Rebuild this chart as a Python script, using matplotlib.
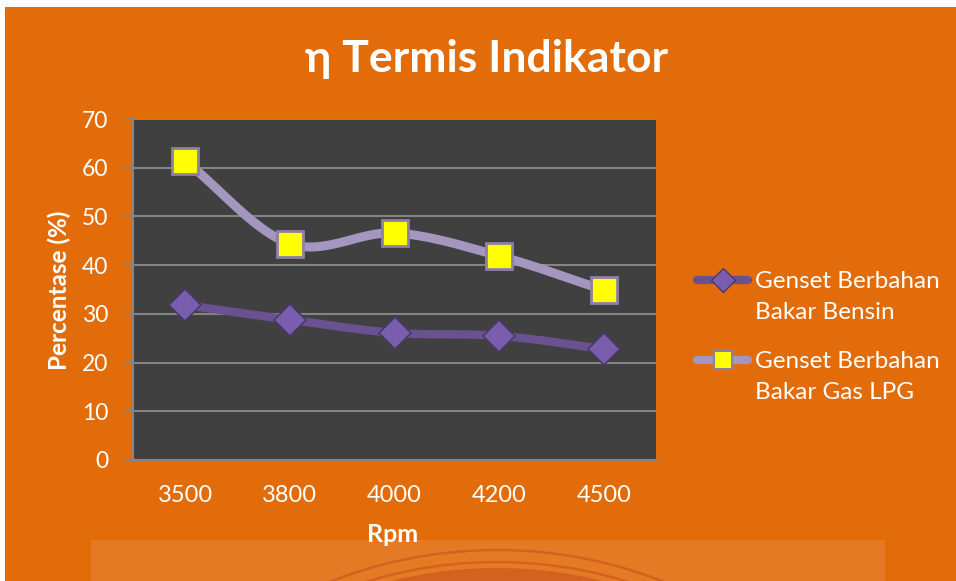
import numpy as np
import matplotlib
matplotlib.use("Agg")
import matplotlib.pyplot as plt
from matplotlib.patches import Rectangle, Circle

plt.rcParams['font.family'] = ['Lato', 'DejaVu Sans']

rpm = ['3500', '3800', '4000', '4200', '4500']
bensin = [31.8, 28.8, 26.1, 25.5, 22.8]
lpg = [61.4, 44.4, 46.6, 41.9, 34.9]
yticks = [0, 10, 20, 30, 40, 50, 60, 70]
names = ['Genset Berbahan\nBakar Bensin', 'Genset Berbahan\nBakar Gas LPG']

orange = '#E36C0A'
c_bensin = '#6A5290'
c_lpg = '#A496BF'


def smooth(xs, ys, n=30):
    # catmull-rom curve through the points, like excel's smoothed line
    xs = np.asarray(xs, float)
    ys = np.asarray(ys, float)
    px = np.concatenate([[2 * xs[0] - xs[1]], xs, [2 * xs[-1] - xs[-2]]])
    py = np.concatenate([[2 * ys[0] - ys[1]], ys, [2 * ys[-1] - ys[-2]]])
    ox, oy = [], []
    t = np.linspace(0, 1, n)
    for i in range(1, len(px) - 2):
        for p, o in ((px, ox), (py, oy)):
            p0, p1, p2, p3 = p[i - 1], p[i], p[i + 1], p[i + 2]
            o.extend(0.5 * (2 * p1 + (-p0 + p2) * t
                            + (2 * p0 - 5 * p1 + 4 * p2 - p3) * t ** 2
                            + (-p0 + 3 * p1 - 3 * p2 + p3) * t ** 3))
    return ox, oy


W, H = 956, 581
fig = plt.figure(figsize=(W / 100, H / 100), dpi=100)
fig.patch.set_facecolor('white')

# background layer in pixel coordinates (y going down)
bg = fig.add_axes([0, 0, 1, 1], zorder=-1)
bg.set_xlim(0, W)
bg.set_ylim(H, 0)
bg.axis('off')
bg.add_patch(Rectangle((5, 7), W, H, facecolor=orange, edgecolor='none'))
panel = Rectangle((91, 540), 885 - 91, 60, facecolor='#E57A25', edgecolor='none')
bg.add_patch(panel)
for r, lw, fill in ((455, 1.8, False), (443, 1.8, False), (437, 0, True)):
    c = Circle((497, 550 + 455), r, facecolor='#D2621E' if fill else 'none',
               edgecolor='#D2621E', lw=lw)
    bg.add_patch(c)
    c.set_clip_path(panel)


def fx(x):
    return x / W

def fy(y):
    return 1 - y / H


ax = fig.add_axes([fx(133), fy(460), fx(656) - fx(133), fy(119) - fy(460)])
ax.set_facecolor('#404040')
x = np.arange(len(rpm))

sx, sy = smooth(x, lpg)
ax.plot(sx, sy, color=c_lpg, lw=6.5, solid_capstyle='round', zorder=3)
sx, sy = smooth(x, bensin)
ax.plot(sx, sy, color=c_bensin, lw=6, solid_capstyle='round', zorder=3)

ax.plot(x, bensin, ls='none', marker='D', ms=16, mfc='#7A5EAE', mec='#4A3968', mew=1.2, zorder=4)
ax.plot(x, lpg, ls='none', marker='s', ms=19, mfc='#FFFF00', mec='#8C80A8', mew=2, zorder=4)

ax.set_xlim(-0.5, len(rpm) - 0.5)
ax.set_ylim(0, 70)
ax.set_yticks(yticks)
ax.set_xticks(x)
ax.set_xticklabels(rpm)
ax.yaxis.grid(True, color='#858585', lw=1.5)
ax.set_axisbelow(True)
for s in ['top', 'right']:
    ax.spines[s].set_visible(False)
for s in ['left', 'bottom']:
    ax.spines[s].set_color('#858585')
    ax.spines[s].set_linewidth(1.5)
ax.tick_params(axis='y', colors='#858585', labelcolor='white', labelsize=16.5, length=6, width=1.2, pad=12)
ax.tick_params(axis='x', length=0, labelcolor='white', labelsize=17, pad=18)

fig.text(fx(393), fy(535), 'Rpm', color='white', fontsize=18, fontweight='bold',
         ha='center', va='center')
fig.text(fx(59), fy(290), 'Percentase (%)', color='white', fontsize=17.5, fontweight='bold',
         ha='center', va='center', rotation=90)

fig.text(fx(487), fy(72), '\u03b7 Termis Indikator', color='white', fontsize=32,
         fontweight='bold', ha='center', va='baseline')

# legend drawn by hand so the handle sits on the first text line
leg = [(280, c_bensin, 'D', 12, '#7A5EAE', '#4A3968', 1.0),
       (360, c_lpg, 's', 13, '#FFFF00', '#8C80A8', 1.5)]
for (ly, col, mk, ms, mfc, mec, mew), name in zip(leg, names):
    bg.plot([697, 748], [ly, ly], color=col, lw=6, solid_capstyle='round')
    bg.plot([723], [ly], ls='none', marker=mk, ms=ms, mfc=mfc, mec=mec, mew=mew)
    for k, line in enumerate(name.split('\n')):
        bg.text(755, ly + 8 + 31 * k, line, color='white', fontsize=17.5,
                ha='left', va='baseline')

fig.savefig('out.png', dpi=100, facecolor=fig.get_facecolor())
